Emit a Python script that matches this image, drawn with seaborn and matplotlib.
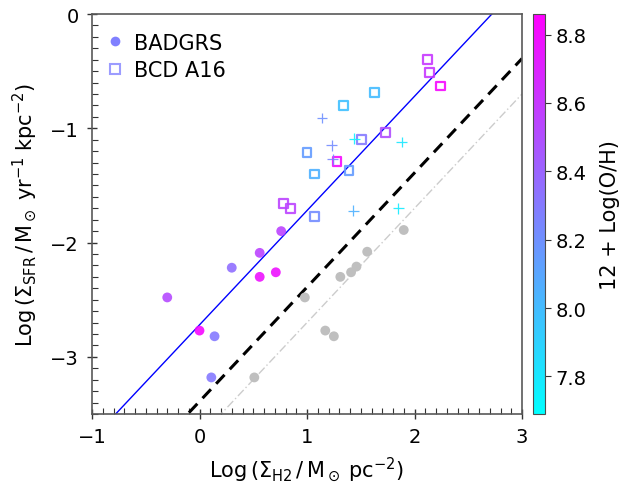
import numpy as np
import pandas as pd
import matplotlib
matplotlib.use("Agg")
import matplotlib.pyplot as plt
import seaborn as sns
from matplotlib.lines import Line2D
from matplotlib.ticker import MultipleLocator

# ---- data ----
badgrs_x = [-0.30, 0.00, 0.14, 0.11, 0.30, 0.56, 0.56, 0.71, 0.76]
badgrs_y = [-2.48, -2.77, -2.82, -3.18, -2.22, -2.09, -2.30, -2.26, -1.90]
badgrs_z = [8.52, 8.82, 8.30, 8.30, 8.35, 8.55, 8.78, 8.78, 8.55]

gray_x = [0.51, 0.98, 1.17, 1.25, 1.31, 1.41, 1.46, 1.56, 1.90]
gray_y = [-3.18, -2.48, -2.77, -2.82, -2.30, -2.26, -2.21, -2.08, -1.89]

bcd_x = [2.12, 2.14, 2.24, 1.63, 1.34, 1.73, 1.51, 1.00, 1.28, 1.07, 1.39, 0.78, 0.85, 1.07]
bcd_y = [-0.40, -0.51, -0.63, -0.69, -0.80, -1.04, -1.10, -1.21, -1.29, -1.40, -1.37, -1.66, -1.70, -1.77]
bcd_z = [8.60, 8.60, 8.82, 8.00, 7.98, 8.50, 8.30, 8.15, 8.82, 8.05, 8.15, 8.55, 8.55, 8.22]

plus_x = [1.14, 1.23, 1.24, 1.44, 1.88, 1.43, 1.85]
plus_y = [-0.91, -1.15, -1.27, -1.09, -1.12, -1.72, -1.70]
plus_z = [8.20, 8.22, 8.25, 7.75, 7.80, 8.05, 7.78]

line_x = [-1.0, 3.0]
blue_offset = -2.72
black_offset = -3.39
gray_offset = -3.70

zmin, zmax = 7.69, 8.86
cbar_ticks = [7.8, 8.0, 8.2, 8.4, 8.6, 8.8]

sns.set_style("white")
plt.rcParams['font.family'] = ['DejaVu Sans']
plt.rcParams['mathtext.fontset'] = 'dejavusans'
for k in ['text.color', 'axes.labelcolor', 'xtick.labelcolor', 'ytick.labelcolor']:
    plt.rcParams[k] = 'black'

fig = plt.figure(figsize=(6.34, 4.85), dpi=100)
ax = fig.add_axes([92/634, 70/485, 430/634, 400/485])
cax = fig.add_axes([533/634, 70/485, 12/634, 400/485])

cmap = plt.get_cmap('cool')
norm = matplotlib.colors.Normalize(vmin=zmin, vmax=zmax)

lx = np.array(line_x)
ax.plot(lx, lx + gray_offset, color='0.8', lw=1.0, ls=(0, (6, 2, 1, 2)), zorder=1)
ax.plot(lx, lx + black_offset, color='black', lw=2.2, ls=(0, (4, 2.5)), zorder=2)
ax.plot(lx, lx + blue_offset, color='blue', lw=1.0, zorder=2)

df_b = pd.DataFrame({'x': badgrs_x, 'y': badgrs_y, 'z': badgrs_z})
df_g = pd.DataFrame({'x': gray_x, 'y': gray_y})
sns.scatterplot(data=df_g, x='x', y='y', color='0.75', s=50, edgecolor='none',
                ax=ax, zorder=3, legend=False)
sns.scatterplot(data=df_b, x='x', y='y', hue='z', palette='cool', hue_norm=norm,
                s=50, edgecolor='none', alpha=0.9, ax=ax, zorder=4, legend=False)

ax.scatter(bcd_x, bcd_y, marker='s', s=40, facecolors='none',
           edgecolors=cmap(norm(np.array(bcd_z))), linewidths=1.6, alpha=0.9, zorder=4)
ax.scatter(plus_x, plus_y, marker='+', s=60, c=cmap(norm(np.array(plus_z))),
           linewidths=0.9, alpha=0.9, zorder=4)

ax.set_xlim(-1, 3)
ax.set_ylim(-3.5, 0)
ax.xaxis.set_major_locator(MultipleLocator(1))
ax.yaxis.set_major_locator(MultipleLocator(1))
ax.xaxis.set_minor_locator(MultipleLocator(0.1))
ax.yaxis.set_minor_locator(MultipleLocator(0.1))
ax.tick_params(which='major', direction='inout', length=7, width=1, color='0.2',
               labelsize=14, labelcolor='black', bottom=True, left=True, top=False, right=False, pad=6)
ax.tick_params(which='minor', direction='in', length=4, width=0.8, color='0.2',
               bottom=True, left=True, top=False, right=False)
for sp in ax.spines.values():
    sp.set_color('0.35')
    sp.set_linewidth(1.2)

ax.set_xlabel(r'Log$\,(\Sigma_{\rm H2}\,/\,{\rm M}_\odot\;{\rm pc}^{-2})$', fontsize=15, labelpad=6)
ax.set_ylabel(r'Log$\,(\Sigma_{\rm SFR}\,/\,{\rm M}_\odot\;{\rm yr}^{-1}\;{\rm kpc}^{-2})$', fontsize=15, labelpad=8)

handles = [
    Line2D([], [], marker='o', ls='none', color='#8080ff', markeredgecolor='none', markersize=7),
    Line2D([], [], marker='s', ls='none', markerfacecolor='none', markeredgecolor='#9c9cff',
           markeredgewidth=1.5, markersize=6.5),
]
ax.legend(handles, ['BADGRS', 'BCD A16'], loc='upper left', frameon=False, fontsize=15,
          handletextpad=0.3, borderaxespad=0.0, borderpad=0.6, labelspacing=0.35,
          handlelength=1.2, bbox_to_anchor=(-0.005, 0.985))

sm = matplotlib.cm.ScalarMappable(norm=norm, cmap=cmap)
cb = fig.colorbar(sm, cax=cax)
cb.set_ticks(cbar_ticks)
cb.ax.tick_params(labelsize=14, length=4, width=0.8, color='0.2', labelcolor='black')
cb.outline.set_edgecolor('0.3')
cb.set_label('12 + Log(O/H)', fontsize=15, labelpad=10, color='black')

fig.savefig('out.png', dpi=100)
